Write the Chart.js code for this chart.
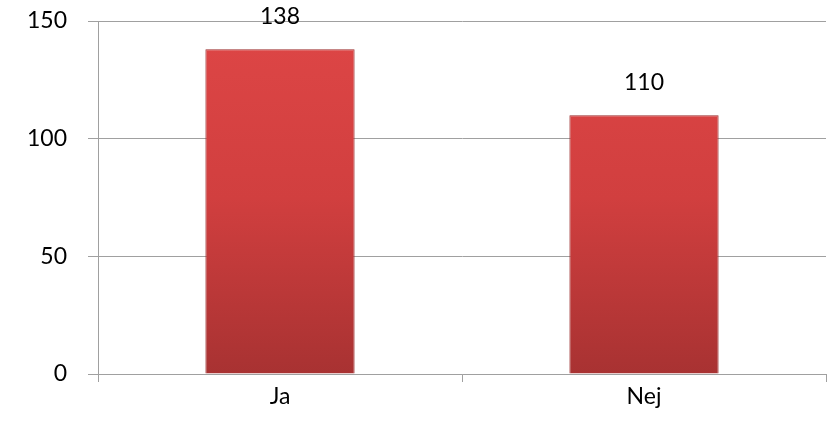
<!DOCTYPE html>
<html>
<head>
<meta charset="utf-8">
<script src="https://cdn.jsdelivr.net/npm/chart.js@4"></script>
<style>
  html, body { margin: 0; padding: 0; background: #fff; }
  #wrap { width: 834px; height: 432px; }
</style>
</head>
<body>
<div id="wrap"><canvas id="grafico" width="834" height="432"></canvas></div>
<script>
// Datos del gráfico
const categorias = ["Ja", "Nej"];
const valores = [138, 110];
const ticksY = [0, 50, 100, 150];

const ctx = document.getElementById("grafico");

// Degradado rojo para las barras
function relleno(context) {
  const chart = context.chart;
  const area = chart.chartArea;
  if (!area) return "#d04040";
  const g = chart.ctx.createLinearGradient(0, area.top, 0, area.bottom);
  g.addColorStop(0, "#de4646");
  g.addColorStop(0.5, "#d13f3f");
  g.addColorStop(1, "#a83232");
  return g;
}

// Etiquetas con el valor encima de cada barra
const etiquetas = {
  id: "etiquetas",
  afterDatasetsDraw(chart) {
    const c = chart.ctx;
    const meta = chart.getDatasetMeta(0);
    c.save();
    c.font = "23px Lato, 'Open Sans', sans-serif";
    c.fillStyle = "#000";
    c.textAlign = "center";
    c.textBaseline = "middle";
    meta.data.forEach((bar, i) => {
      c.fillText(String(valores[i]), bar.x, bar.y - 33);
    });
    c.restore();
  },
};

new Chart(ctx, {
  type: "bar",
  data: {
    labels: categorias,
    datasets: [
      {
        data: valores,
        backgroundColor: relleno,
        borderColor: "#9a2c2c",
        borderWidth: 1,
        categoryPercentage: 1,
        barPercentage: 0.41,
      },
    ],
  },
  options: {
    responsive: false,
    animation: false,
    layout: { padding: { top: 21, right: 8, left: 0, bottom: 0 } },
    plugins: { legend: { display: false }, tooltip: { enabled: false } },
    scales: {
      x: {
        grid: {
          offset: true,
          drawOnChartArea: false,
          color: "#a0a0a0",
          tickLength: 8,
        },
        border: { color: "#a0a0a0" },
        ticks: {
          color: "#000",
          font: { family: "Lato, 'Open Sans', sans-serif", size: 23 },
          padding: 1,
        },
        afterFit(scale) {
          scale.height = 58;
          scale.paddingLeft = 0;
          scale.paddingRight = 0;
        },
      },
      y: {
        min: 0,
        max: 150,
        afterBuildTicks(scale) {
          scale.ticks = ticksY.map((v) => ({ value: v }));
        },
        grid: { color: "#a0a0a0", tickLength: 10 },
        border: { color: "#a0a0a0" },
        ticks: {
          color: "#000",
          font: { family: "Lato, 'Open Sans', sans-serif", size: 23 },
          padding: 21,
        },
        afterFit(scale) {
          scale.width = 98;
          scale.paddingTop = 0;
          scale.paddingBottom = 0;
        },
      },
    },
  },
  plugins: [etiquetas],
});
</script>
</body>
</html>
